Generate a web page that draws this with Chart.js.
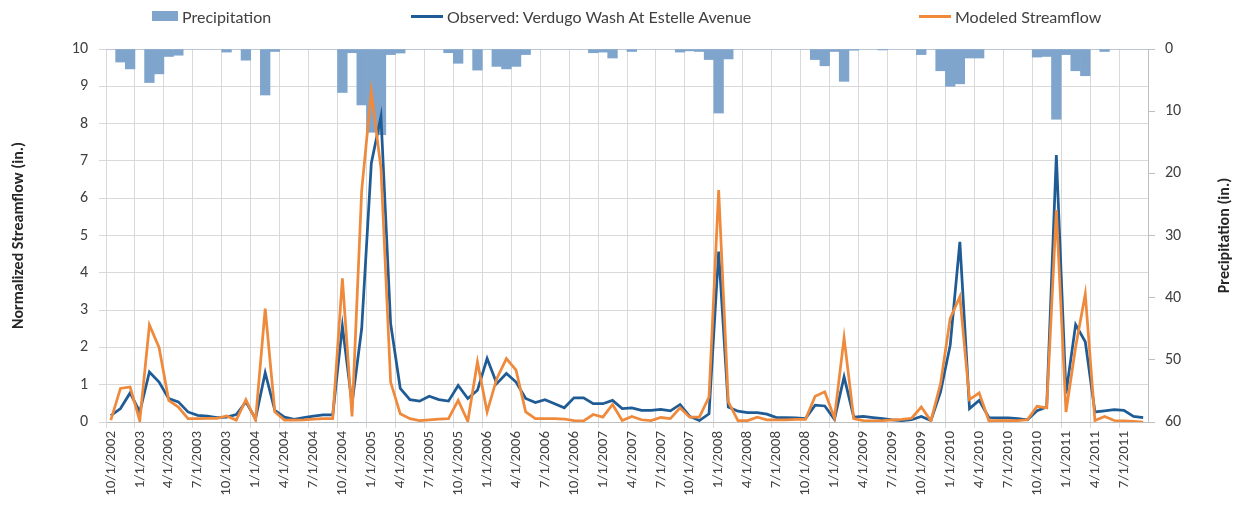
<!DOCTYPE html>
<html>
<head>
<meta charset="utf-8">
<script src="https://cdn.jsdelivr.net/npm/chart.js@4.4.1/dist/chart.umd.min.js"></script>
<style>
  html, body { margin: 0; padding: 0; background: #fff; }
  #wrap { position: relative; width: 1238px; height: 519px; }
  #legend { position: absolute; top: 0; left: 0; width: 1238px; height: 34px;
            font: 16px Lato, sans-serif; color: #404040; }
  .item { position: absolute; top: 7px; height: 18px; display: flex; align-items: center; white-space: nowrap; }
  .swatch { margin-right: 4px; }
</style>
</head>
<body>
<div id="wrap">
  <canvas id="chart" width="1238" height="519"></canvas>
  <div id="legend"></div>
</div>
<script>
// DATA
// =============================================================================

// Monthly categories, water years 2003-2011
const months = [
  '10/1/2002', '11/1/2002', '12/1/2002',
  '1/1/2003', '2/1/2003', '3/1/2003', '4/1/2003', '5/1/2003', '6/1/2003', '7/1/2003', '8/1/2003', '9/1/2003', '10/1/2003', '11/1/2003', '12/1/2003',
  '1/1/2004', '2/1/2004', '3/1/2004', '4/1/2004', '5/1/2004', '6/1/2004', '7/1/2004', '8/1/2004', '9/1/2004', '10/1/2004', '11/1/2004', '12/1/2004',
  '1/1/2005', '2/1/2005', '3/1/2005', '4/1/2005', '5/1/2005', '6/1/2005', '7/1/2005', '8/1/2005', '9/1/2005', '10/1/2005', '11/1/2005', '12/1/2005',
  '1/1/2006', '2/1/2006', '3/1/2006', '4/1/2006', '5/1/2006', '6/1/2006', '7/1/2006', '8/1/2006', '9/1/2006', '10/1/2006', '11/1/2006', '12/1/2006',
  '1/1/2007', '2/1/2007', '3/1/2007', '4/1/2007', '5/1/2007', '6/1/2007', '7/1/2007', '8/1/2007', '9/1/2007', '10/1/2007', '11/1/2007', '12/1/2007',
  '1/1/2008', '2/1/2008', '3/1/2008', '4/1/2008', '5/1/2008', '6/1/2008', '7/1/2008', '8/1/2008', '9/1/2008', '10/1/2008', '11/1/2008', '12/1/2008',
  '1/1/2009', '2/1/2009', '3/1/2009', '4/1/2009', '5/1/2009', '6/1/2009', '7/1/2009', '8/1/2009', '9/1/2009', '10/1/2009', '11/1/2009', '12/1/2009',
  '1/1/2010', '2/1/2010', '3/1/2010', '4/1/2010', '5/1/2010', '6/1/2010', '7/1/2010', '8/1/2010', '9/1/2010', '10/1/2010', '11/1/2010', '12/1/2010',
  '1/1/2011', '2/1/2011', '3/1/2011', '4/1/2011', '5/1/2011', '6/1/2011', '7/1/2011', '8/1/2011', '9/1/2011'
];

// Monthly precipitation (in.), drawn down from the top on the right axis
const precipitation = [
  0, 2.1, 3.2,
  0, 5.4, 4.0, 1.2, 1.0, 0, 0, 0, 0, 0.5, 0, 1.8,
  0, 7.4, 0.4, 0, 0, 0, 0, 0, 0, 7.0, 0.6, 9.0,
  13.4, 13.8, 0.9, 0.65, 0, 0, 0, 0, 0.6, 2.3, 0, 3.4,
  0, 2.8, 3.2, 2.8, 0.9, 0, 0, 0, 0, 0, 0, 0.6,
  0.5, 1.45, 0, 0.4, 0, 0, 0, 0, 0.5, 0.3, 0.4, 1.7,
  10.3, 1.6, 0, 0, 0, 0, 0, 0, 0, 0, 1.7, 2.7,
  0.4, 5.2, 0.2, 0, 0, 0.15, 0, 0, 0, 0.9, 0, 3.5,
  6.0, 5.6, 1.45, 1.45, 0, 0, 0, 0, 0, 1.3, 1.2, 11.3,
  0.9, 3.5, 4.3, 0, 0.4, 0, 0, 0, 0
];

// Observed: Verdugo Wash At Estelle Avenue, normalized streamflow (in.)
const observed = [
  0.17, 0.36, 0.78,
  0.27, 1.34, 1.07, 0.63, 0.54, 0.27, 0.18, 0.16, 0.12, 0.13, 0.2, 0.54,
  0.09, 1.32, 0.31, 0.13, 0.07, 0.12, 0.16, 0.19, 0.19, 2.57, 0.49, 2.5,
  6.94, 8.19, 2.64, 0.9, 0.6, 0.56, 0.69, 0.6, 0.56, 0.98, 0.63, 0.85,
  1.7, 1.03, 1.3, 1.07, 0.63, 0.52, 0.6, 0.49, 0.38, 0.65, 0.65, 0.49,
  0.49, 0.58, 0.36, 0.38, 0.31, 0.31, 0.34, 0.3, 0.47, 0.15, 0.04, 0.22,
  4.57, 0.4, 0.29, 0.25, 0.25, 0.21, 0.12, 0.12, 0.11, 0.09, 0.45, 0.43,
  0.07, 1.21, 0.13, 0.15, 0.12, 0.09, 0.06, 0.04, 0.06, 0.15, 0.04, 0.81,
  2.06, 4.83, 0.36, 0.58, 0.12, 0.11, 0.11, 0.09, 0.06, 0.3, 0.4, 7.16,
  0.76, 2.61, 2.15, 0.27, 0.3, 0.33, 0.31, 0.15, 0.12
];

// Modeled streamflow (in.)
const modeled = [
  0.05, 0.9, 0.94,
  0.03, 2.6, 2.0, 0.58, 0.4, 0.09, 0.09, 0.1, 0.1, 0.16, 0.05, 0.6,
  0.05, 3.04, 0.27, 0.05, 0.05, 0.06, 0.08, 0.09, 0.09, 3.85, 0.15, 6.2,
  8.86, 6.8, 1.07, 0.22, 0.09, 0.04, 0.06, 0.08, 0.09, 0.58, 0.02, 1.61,
  0.27, 1.16, 1.7, 1.39, 0.27, 0.09, 0.09, 0.09, 0.08, 0.04, 0.03, 0.2,
  0.13, 0.47, 0.04, 0.15, 0.06, 0.04, 0.12, 0.09, 0.38, 0.13, 0.13, 0.67,
  6.22, 0.54, 0.04, 0.04, 0.13, 0.06, 0.06, 0.06, 0.07, 0.07, 0.69, 0.81,
  0.11, 2.26, 0.09, 0.04, 0.03, 0.04, 0.06, 0.07, 0.1, 0.4, 0.03, 1.03,
  2.78, 3.36, 0.6, 0.78, 0.04, 0.04, 0.04, 0.04, 0.06, 0.42, 0.38, 5.68,
  0.27, 2.01, 3.43, 0.04, 0.15, 0.04, 0.03, 0.02, 0
];

const COLORS = {
  precip: '#7fa5cc',
  observed: '#1f5c96',
  modeled: '#ef8a3c',
  grid: '#d9d9d9',
  axis: '#bfbfbf',
  text: '#404040',
  title: '#262626'
};

// CHART
// =============================================================================

Chart.defaults.font.family = 'Calibri, Carlito, Lato, sans-serif';
Chart.defaults.color = COLORS.text;

// Every third month gets a grid line and a label
const everyThird = (ctx) => (ctx.index !== undefined && ctx.index % 3 === 0) ? COLORS.grid : 'rgba(0,0,0,0)';

/**
 * Right axis title, drawn reading bottom-to-top like the left one
 */
const rightTitle = {
  id: 'rightTitle',
  afterDraw(chart) {
    const scale = chart.scales.yP;
    const ctx = chart.ctx;
    ctx.save();
    ctx.translate(scale.right - 13, (scale.top + scale.bottom) / 2);
    ctx.rotate(-Math.PI / 2);
    ctx.font = 'bold 16px Calibri, Carlito, Lato, sans-serif';
    ctx.fillStyle = COLORS.title;
    ctx.textAlign = 'center';
    ctx.textBaseline = 'middle';
    ctx.fillText('Precipitation (in.)', 0, 0);
    ctx.restore();
  }
};

const chart = new Chart(document.getElementById('chart'), {
  type: 'bar',
  data: {
    labels: months,
    datasets: [
      {
        type: 'bar',
        label: 'Precipitation',
        data: precipitation,
        yAxisID: 'yP',
        backgroundColor: COLORS.precip,
        barPercentage: 1,
        categoryPercentage: 1,
        order: 3
      },
      {
        type: 'line',
        label: 'Observed: Verdugo Wash At Estelle Avenue',
        data: observed,
        yAxisID: 'y',
        borderColor: COLORS.observed,
        backgroundColor: COLORS.observed,
        borderWidth: 2.75,
        pointRadius: 0,
        tension: 0,
        order: 2
      },
      {
        type: 'line',
        label: 'Modeled Streamflow',
        data: modeled,
        yAxisID: 'y',
        borderColor: COLORS.modeled,
        backgroundColor: COLORS.modeled,
        borderWidth: 2.75,
        pointRadius: 0,
        tension: 0,
        order: 1
      }
    ]
  },
  options: {
    responsive: false,
    animation: false,
    layout: { padding: { top: 49, left: 0, right: 0, bottom: 0 } },
    plugins: {
      legend: { display: false },
      tooltip: { enabled: false }
    },
    scales: {
      x: {
        offset: true,
        grid: { offset: true, color: everyThird, tickColor: everyThird, tickLength: 6 },
        border: { color: COLORS.axis },
        ticks: {
          autoSkip: false,
          minRotation: 90,
          maxRotation: 90,
          padding: 3,
          font: { size: 15 },
          callback: function(value, index) {
            return index % 3 === 0 ? this.getLabelForValue(value) : '';
          }
        },
        afterFit: (scale) => { scale.height = 97; }
      },
      y: {
        position: 'left',
        min: 0,
        max: 10,
        ticks: { stepSize: 1, padding: 11, font: { size: 16 } },
        grid: { color: COLORS.grid, tickLength: 7 },
        border: { color: COLORS.grid },
        title: {
          display: true,
          text: 'Normalized Streamflow (in.)',
          color: COLORS.title,
          font: { size: 16, weight: 'bold' },
          padding: { top: 9, bottom: 0 }
        },
        afterFit: (scale) => { scale.width = 106; }
      },
      yP: {
        position: 'right',
        reverse: true,
        min: 0,
        max: 60,
        ticks: { stepSize: 10, padding: 10, font: { size: 16 } },
        grid: { drawOnChartArea: false, color: COLORS.axis, tickLength: 7 },
        border: { color: COLORS.axis },
        afterFit: (scale) => { scale.width = 90; }
      }
    }
  },
  plugins: [rightTitle]
});

// HTML LEGEND
// =============================================================================

const legendLeft = [152, 411, 919];
const legendEl = document.getElementById('legend');
chart.data.datasets.forEach((ds, i) => {
  const item = document.createElement('div');
  item.className = 'item';
  item.style.left = legendLeft[i] + 'px';
  const sw = document.createElement('span');
  sw.className = 'swatch';
  sw.style.display = 'inline-block';
  sw.style.background = ds.type === 'bar' ? ds.backgroundColor : ds.borderColor;
  sw.style.width = ds.type === 'bar' ? '26px' : '32px';
  sw.style.height = ds.type === 'bar' ? '10px' : '3px';
  const txt = document.createElement('span');
  txt.textContent = ds.label;
  item.appendChild(sw);
  item.appendChild(txt);
  legendEl.appendChild(item);
});
</script>
</body>
</html>
